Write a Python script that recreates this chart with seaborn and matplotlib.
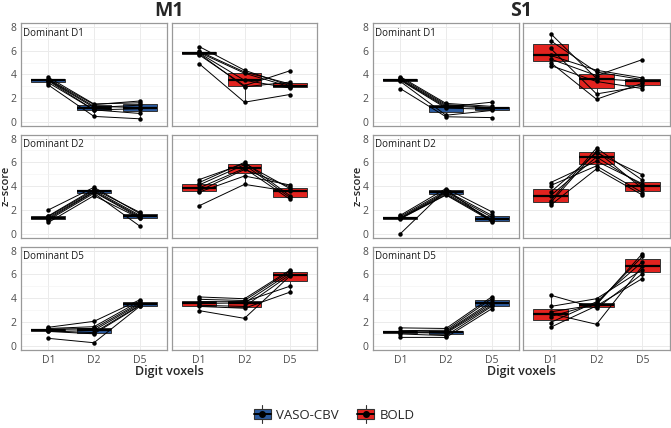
import numpy as np
import pandas as pd
import matplotlib
matplotlib.use('Agg')
import matplotlib.pyplot as plt
import seaborn as sns
from matplotlib.patches import Patch, Rectangle
from matplotlib.lines import Line2D
from matplotlib.legend_handler import HandlerBase

sns.set_theme(style='white')
plt.rcParams['font.family'] = ['Open Sans', 'DejaVu Sans']

# categories
digits = ['D1', 'D2', 'D5']
conditions = ['VASO-CBV', 'BOLD']
dominant = ['Dominant D1', 'Dominant D2', 'Dominant D5']
regions = ['M1', 'S1']

# z-scores per panel: one list per digit voxel set (D1, D2, D5), one value per subject
m1_vaso_dom1 = [[3.75, 3.6, 3.55, 3.5, 3.45, 3.3, 3.1],
                [1.5, 1.45, 1.3, 1.2, 1.0, 1.0, 0.45],
                [1.6, 1.75, 1.2, 1.4, 0.7, 1.1, 0.25]]
m1_bold_dom1 = [[6.35, 5.95, 5.85, 5.8, 5.75, 5.65, 4.9],
                [4.35, 4.2, 4.1, 3.5, 2.95, 3.05, 1.65],
                [3.05, 3.2, 2.95, 2.85, 3.35, 4.3, 2.3]]
m1_vaso_dom2 = [[2.0, 1.5, 1.45, 1.35, 1.25, 1.15, 0.95],
                [3.9, 3.75, 3.65, 3.55, 3.5, 3.4, 3.2],
                [1.7, 1.8, 1.55, 1.45, 1.35, 0.65, 1.3]]
m1_bold_dom2 = [[4.55, 4.3, 4.1, 3.85, 3.6, 3.5, 2.35],
                [5.9, 6.0, 5.8, 5.5, 5.4, 4.85, 4.15],
                [3.8, 3.2, 3.05, 2.9, 3.95, 4.1, 3.55]]
m1_vaso_dom5 = [[1.55, 1.45, 1.4, 1.35, 1.25, 1.2, 0.62],
                [2.05, 1.6, 1.45, 1.3, 1.1, 1.0, 0.25],
                [3.85, 3.75, 3.6, 3.5, 3.4, 3.35, 3.3]]
m1_bold_dom5 = [[4.1, 3.9, 3.7, 3.55, 3.4, 3.3, 2.95],
                [3.95, 3.8, 3.7, 3.6, 3.3, 3.15, 2.3],
                [6.35, 6.25, 5.0, 6.1, 5.95, 4.5, 5.85]]

s1_vaso_dom1 = [[3.8, 3.7, 3.6, 3.55, 3.5, 3.4, 2.8],
                [1.55, 1.45, 1.35, 1.25, 1.15, 0.55, 0.42],
                [1.3, 1.2, 1.15, 1.65, 1.05, 0.95, 0.35]]
s1_bold_dom1 = [[7.45, 6.85, 6.2, 5.6, 5.3, 5.0, 4.75],
                [3.65, 4.2, 2.35, 4.35, 3.9, 1.9, 3.4],
                [3.4, 3.55, 3.0, 3.7, 5.25, 3.25, 2.8]]
s1_vaso_dom2 = [[1.55, 1.45, 1.35, 1.3, 1.28, 1.25, 0.0],
                [3.8, 3.6, 3.5, 3.4, 3.3, 3.25, 3.7],
                [1.85, 1.55, 1.4, 1.2, 1.15, 1.05, 1.0]]
s1_bold_dom2 = [[4.3, 4.05, 3.5, 3.2, 2.75, 2.6, 2.4],
                [6.1, 5.7, 6.8, 6.45, 7.2, 6.95, 5.45],
                [4.2, 3.45, 4.95, 4.05, 4.5, 3.8, 3.25]]
s1_vaso_dom5 = [[1.5, 1.27, 1.15, 1.13, 1.12, 0.99, 0.7],
                [1.45, 1.3, 1.2, 1.13, 1.05, 0.85, 0.7],
                [4.1, 3.95, 3.7, 3.55, 3.4, 3.3, 3.1]]
s1_bold_dom5 = [[4.25, 3.3, 2.85, 2.7, 2.45, 1.95, 1.55],
                [3.15, 3.95, 3.45, 1.8, 3.55, 3.7, 3.35],
                [6.05, 6.4, 7.75, 6.7, 7.5, 7.05, 5.65]]

panels = {
    'M1': [[m1_vaso_dom1, m1_bold_dom1], [m1_vaso_dom2, m1_bold_dom2], [m1_vaso_dom5, m1_bold_dom5]],
    'S1': [[s1_vaso_dom1, s1_bold_dom1], [s1_vaso_dom2, s1_bold_dom2], [s1_vaso_dom5, s1_bold_dom5]],
}

colors = {'VASO-CBV': '#2B5A9E', 'BOLD': '#E2231F'}

W, H = 671, 428
fig = plt.figure(figsize=(W / 100, H / 100), dpi=100)


def px_axes(l, t, r, b):
    return fig.add_axes([l / W, 1 - b / H, (r - l) / W, (b - t) / H])


def to_long(values):
    rows = []
    for i, dg in enumerate(digits):
        for s, v in enumerate(values[i]):
            rows.append({'digit': dg, 'pos': i, 'subject': s, 'z': v})
    return pd.DataFrame(rows)


col_x = {'M1': [(21, 167), (172, 317)], 'S1': [(373, 519), (523, 670)]}
row_y = [(23, 126), (134.5, 238), (246.5, 350)]
grey = '#4D4D4D'

for reg in regions:
    for r in range(3):
        for c, cond in enumerate(conditions):
            l, rr = col_x[reg][c]
            t, b = row_y[r]
            ax = px_axes(l, t, rr, b)
            df = to_long(panels[reg][r][c])
            sns.boxplot(data=df, x='digit', y='z', order=digits, color=colors[cond],
                        saturation=1, width=0.75, showfliers=False, showcaps=False,
                        linecolor='#333333', linewidth=0.7,
                        medianprops={'color': 'black', 'linewidth': 1.6}, ax=ax)
            sns.lineplot(data=df, x='pos', y='z', units='subject', estimator=None,
                         sort=False, color='black', lw=0.7, marker='o', markersize=3.2,
                         markeredgewidth=0, legend=False, ax=ax)
            ax.set_xlim(-0.6, 2.6)
            ax.set_ylim(-0.36, 8.34)
            ax.set_yticks([0, 2, 4, 6, 8])
            ax.set_yticks([1, 3, 5, 7], minor=True)
            ax.set_xticks(range(len(digits)))
            ax.grid(True, which='major', color='#EBEBEB', lw=0.7)
            ax.grid(True, which='minor', axis='y', color='#F2F2F2', lw=0.4)
            ax.set_axisbelow(True)
            ax.set_xlabel('')
            ax.set_ylabel('')
            for sp in ax.spines.values():
                sp.set_color('#999999')
                sp.set_linewidth(0.9)
            ax.tick_params(axis='both', which='major', length=2.5, width=0.6, color='#666666',
                           labelsize=7.5, labelcolor=grey, pad=0.8)
            ax.tick_params(axis='both', which='minor', length=0)
            if c == 0:
                ax.set_yticklabels(['0', '2', '4', '6', '8'])
                ax.text(0.015, 0.9, dominant[r], transform=ax.transAxes, fontsize=7,
                        color='#1A1A1A', ha='left', va='center')
            else:
                ax.tick_params(axis='y', left=False, labelleft=False)
            if r == 2:
                ax.set_xticklabels(digits)
            else:
                ax.tick_params(axis='x', bottom=False, labelbottom=False)

    x0, x1 = col_x[reg][0][0], col_x[reg][1][1]
    xc = (x0 + x1) / 2 / W
    fig.text(xc, 1 - 11 / H, reg, fontsize=14, fontweight='bold', ha='center', va='center')
    fig.text(xc, 1 - 371 / H, 'Digit voxels', fontsize=9, fontweight='semibold', ha='center', va='center')
    fig.text((x0 - 20.5) / W, 1 - 186 / H, 'z\u2212score', fontsize=8, fontweight='semibold',
             rotation=90, ha='left', va='center')


class BoxHandler(HandlerBase):
    def create_artists(self, legend, orig_handle, xdescent, ydescent, width, height, fontsize, trans):
        fc = orig_handle.get_facecolor()
        x0, y0 = -xdescent, -ydescent
        cx, cy = x0 + width / 2, y0 + height / 2
        vline = Line2D([cx, cx], [y0 - height * 0.25, y0 + height * 1.25], color='#333333', lw=0.8,
                       transform=trans)
        rect = Rectangle((x0, y0 + height * 0.1), width, height * 0.8, facecolor=fc,
                         edgecolor='#333333', lw=0.8, transform=trans)
        hline = Line2D([x0, x0 + width], [cy, cy], color='black', lw=1.4, transform=trans)
        dot = Line2D([cx], [cy], marker='o', markersize=4, color='black', lw=0, transform=trans)
        return [vline, rect, hline, dot]


handles = [Patch(facecolor=colors[c]) for c in conditions]
fig.legend(handles, conditions, loc='center', bbox_to_anchor=(334 / W, 1 - 415 / H),
           ncol=2, frameon=False, fontsize=9.5, handler_map={Patch: BoxHandler()},
           handlelength=1.3, handleheight=1.0, handletextpad=0.4, columnspacing=1.4)

fig.savefig('out.png', dpi=100)
